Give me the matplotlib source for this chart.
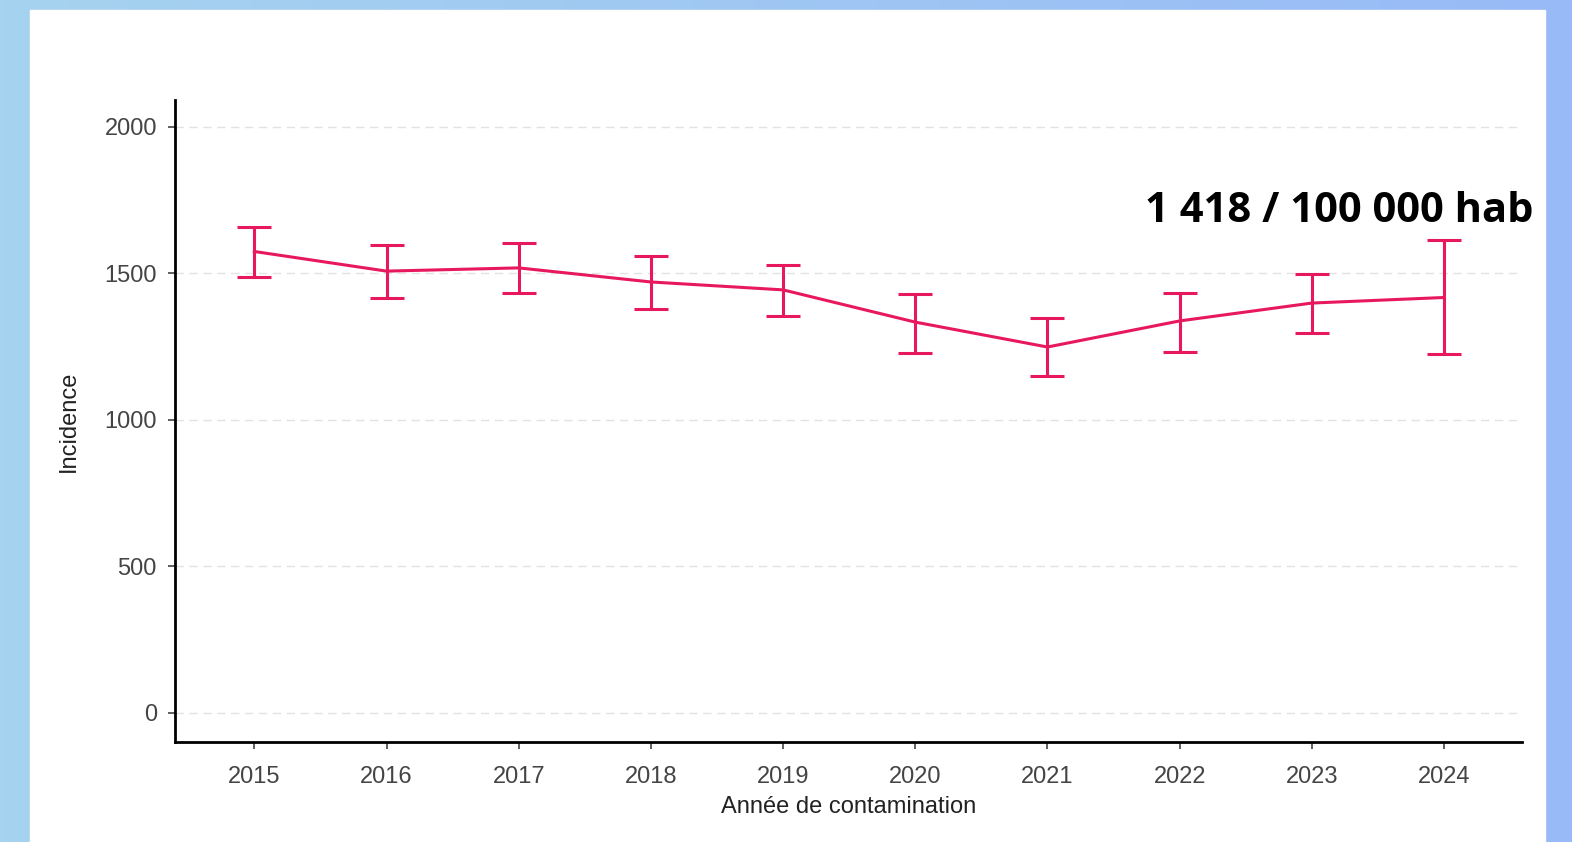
import matplotlib.pyplot as plt
import numpy as np
from matplotlib.patches import Rectangle

years = [2015, 2016, 2017, 2018, 2019, 2020, 2021, 2022, 2023, 2024]
incidence = [1575, 1508, 1519, 1471, 1444, 1334, 1249, 1338, 1399, 1418]
upper = [1659, 1597, 1604, 1560, 1529, 1430, 1348, 1433, 1498, 1614]
lower = [1487, 1416, 1433, 1379, 1355, 1229, 1150, 1232, 1297, 1225]

pink = '#e8185e'
plt.rcParams['font.family'] = ['Liberation Sans', 'DejaVu Sans']

fig = plt.figure(figsize=(15.72, 8.42), dpi=100)

# gradient border + white panel
bg = fig.add_axes([0, 0, 1, 1], zorder=-10)
grad = np.linspace(0, 1, 256).reshape(1, -1)
bg.imshow(grad, aspect='auto', extent=[0, 1, 0, 1],
          cmap=plt.matplotlib.colors.LinearSegmentedColormap.from_list('bg', ['#a6d3ef', '#98baf7']))
bg.add_patch(Rectangle((30 / 1572, 0), 1515 / 1572, 832 / 842, color='white'))
bg.set_xlim(0, 1)
bg.set_ylim(0, 1)
bg.axis('off')

ax = fig.add_axes([175 / 1572, 100 / 842, 1347 / 1572, 642 / 842])
ax.patch.set_alpha(0)
yerr = [np.array(incidence) - np.array(lower), np.array(upper) - np.array(incidence)]
ax.errorbar(years, incidence, yerr=yerr, color=pink, lw=2.2, capsize=12, capthick=2.2, elinewidth=2.2)

ax.set_xlim(2014.40, 2024.59)
ax.set_ylim(-99, 2092)
ax.set_xticks(years)
ax.set_yticks([0, 500, 1000, 1500, 2000])
ax.yaxis.grid(True, color='#e2e2e2', ls=(0, (6, 4)), lw=1)
ax.set_axisbelow(True)
for s in ['top', 'right']:
    ax.spines[s].set_visible(False)
for s in ['left', 'bottom']:
    ax.spines[s].set_linewidth(2)
ax.tick_params(labelsize=17, colors='#444444', length=5, width=1.2)
ax.tick_params(axis='x', pad=12)
ax.tick_params(axis='y', pad=8)
ax.set_xlabel('Année de contamination', fontsize=17, color='#222222', labelpad=6)
ax.set_ylabel('Incidence', fontsize=17, color='#222222', labelpad=18)

ax.text(2023.21, 1710, '1 418 / 100 000 hab', fontsize=30, fontweight='bold',
        family=['Open Sans', 'DejaVu Sans'], ha='center', va='center', color='black')

fig.savefig('out.png', dpi=100)
